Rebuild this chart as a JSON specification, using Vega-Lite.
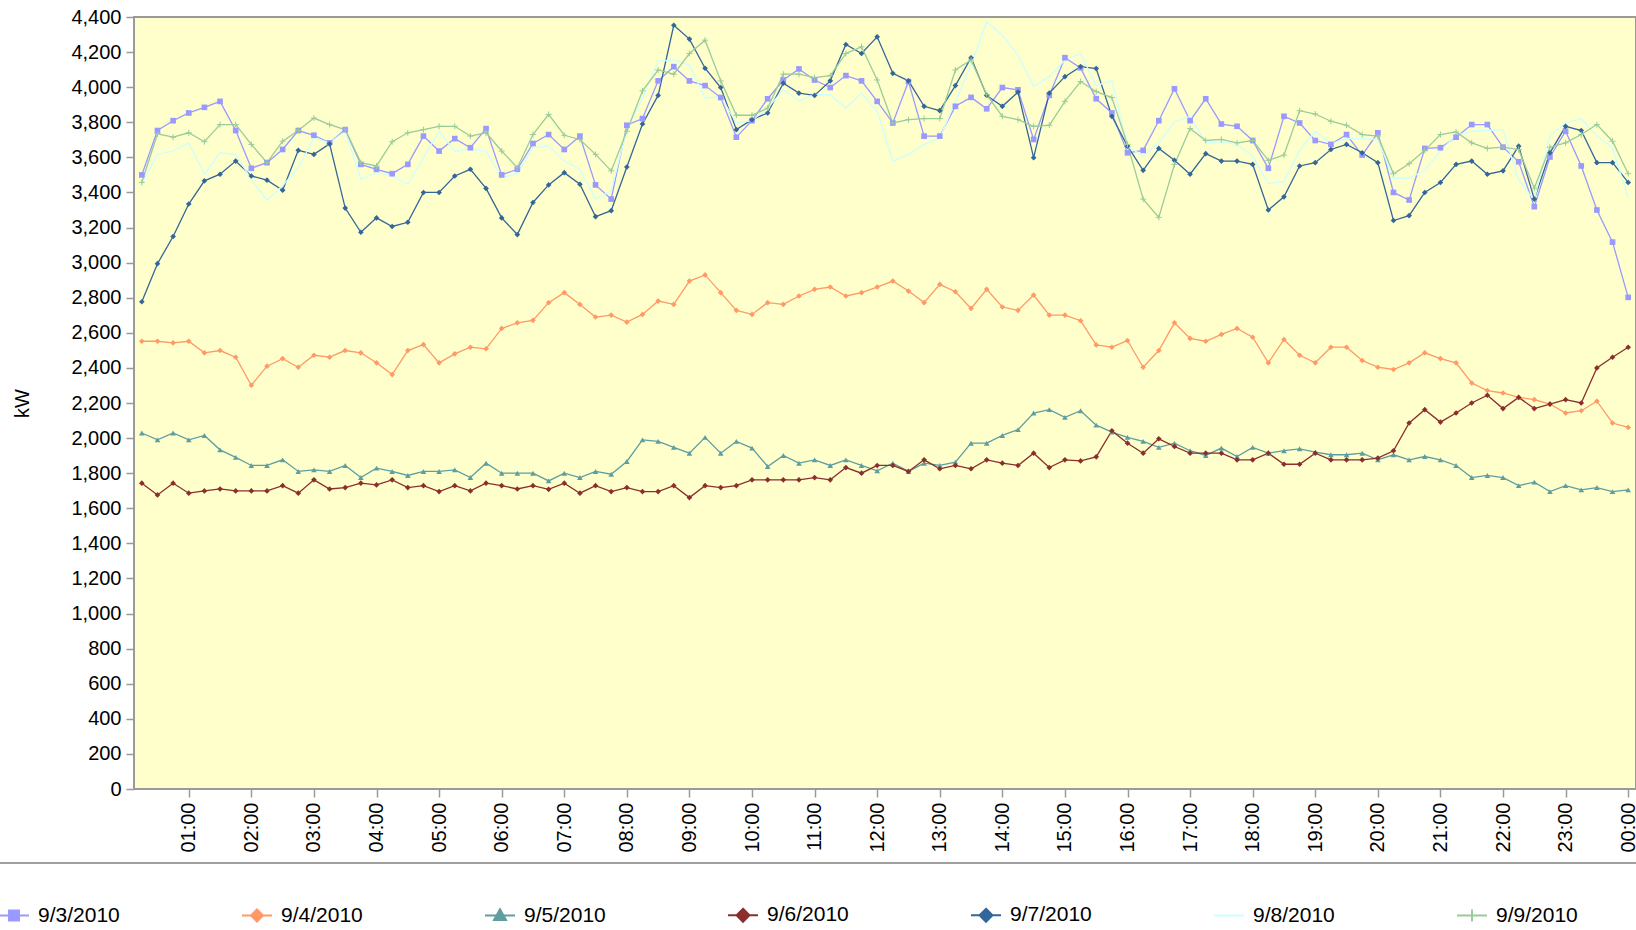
{
"$schema": "https://vega.github.io/schema/vega-lite/v6.json",
"width": 1502,
"height": 772,
"autosize": {"type": "none"},
"padding": {"left": 134, "top": 17, "right": 0, "bottom": 141},
"background": "white",
"data": {"values": [
{"day":"9/3/2010","t":15,"kw":3500},{"day":"9/3/2010","t":30,"kw":3753},{"day":"9/3/2010","t":45,"kw":3809},{"day":"9/3/2010","t":60,"kw":3853},{"day":"9/3/2010","t":75,"kw":3885},{"day":"9/3/2010","t":90,"kw":3919},{"day":"9/3/2010","t":105,"kw":3753},{"day":"9/3/2010","t":120,"kw":3538},{"day":"9/3/2010","t":135,"kw":3570},{"day":"9/3/2010","t":150,"kw":3645},
{"day":"9/3/2010","t":165,"kw":3753},{"day":"9/3/2010","t":180,"kw":3726},{"day":"9/3/2010","t":195,"kw":3683},{"day":"9/3/2010","t":210,"kw":3758},{"day":"9/3/2010","t":225,"kw":3560},{"day":"9/3/2010","t":240,"kw":3532},{"day":"9/3/2010","t":255,"kw":3507},{"day":"9/3/2010","t":270,"kw":3560},{"day":"9/3/2010","t":285,"kw":3721},{"day":"9/3/2010","t":300,"kw":3636},
{"day":"9/3/2010","t":315,"kw":3707},{"day":"9/3/2010","t":330,"kw":3655},{"day":"9/3/2010","t":345,"kw":3764},{"day":"9/3/2010","t":360,"kw":3500},{"day":"9/3/2010","t":375,"kw":3532},{"day":"9/3/2010","t":390,"kw":3679},{"day":"9/3/2010","t":405,"kw":3730},{"day":"9/3/2010","t":420,"kw":3645},{"day":"9/3/2010","t":435,"kw":3721},{"day":"9/3/2010","t":450,"kw":3443},
{"day":"9/3/2010","t":465,"kw":3362},{"day":"9/3/2010","t":480,"kw":3783},{"day":"9/3/2010","t":495,"kw":3821},{"day":"9/3/2010","t":510,"kw":4036},{"day":"9/3/2010","t":525,"kw":4117},{"day":"9/3/2010","t":540,"kw":4036},{"day":"9/3/2010","t":555,"kw":4009},{"day":"9/3/2010","t":570,"kw":3941},{"day":"9/3/2010","t":585,"kw":3715},{"day":"9/3/2010","t":600,"kw":3809},
{"day":"9/3/2010","t":615,"kw":3934},{"day":"9/3/2010","t":630,"kw":4041},{"day":"9/3/2010","t":645,"kw":4104},{"day":"9/3/2010","t":660,"kw":4041},{"day":"9/3/2010","t":675,"kw":3998},{"day":"9/3/2010","t":690,"kw":4066},{"day":"9/3/2010","t":705,"kw":4036},{"day":"9/3/2010","t":720,"kw":3919},{"day":"9/3/2010","t":735,"kw":3796},{"day":"9/3/2010","t":750,"kw":4032},
{"day":"9/3/2010","t":765,"kw":3721},{"day":"9/3/2010","t":780,"kw":3721},{"day":"9/3/2010","t":795,"kw":3891},{"day":"9/3/2010","t":810,"kw":3942},{"day":"9/3/2010","t":825,"kw":3877},{"day":"9/3/2010","t":840,"kw":3998},{"day":"9/3/2010","t":855,"kw":3985},{"day":"9/3/2010","t":870,"kw":3702},{"day":"9/3/2010","t":885,"kw":3953},{"day":"9/3/2010","t":900,"kw":4168},
{"day":"9/3/2010","t":915,"kw":4110},{"day":"9/3/2010","t":930,"kw":3934},{"day":"9/3/2010","t":945,"kw":3853},{"day":"9/3/2010","t":960,"kw":3626},{"day":"9/3/2010","t":975,"kw":3640},{"day":"9/3/2010","t":990,"kw":3809},{"day":"9/3/2010","t":1005,"kw":3991},{"day":"9/3/2010","t":1020,"kw":3809},{"day":"9/3/2010","t":1035,"kw":3934},{"day":"9/3/2010","t":1050,"kw":3790},
{"day":"9/3/2010","t":1065,"kw":3777},{"day":"9/3/2010","t":1080,"kw":3696},{"day":"9/3/2010","t":1095,"kw":3538},{"day":"9/3/2010","t":1110,"kw":3834},{"day":"9/3/2010","t":1125,"kw":3796},{"day":"9/3/2010","t":1140,"kw":3696},{"day":"9/3/2010","t":1155,"kw":3674},{"day":"9/3/2010","t":1170,"kw":3730},{"day":"9/3/2010","t":1185,"kw":3613},{"day":"9/3/2010","t":1200,"kw":3740},
{"day":"9/3/2010","t":1215,"kw":3400},{"day":"9/3/2010","t":1230,"kw":3357},{"day":"9/3/2010","t":1245,"kw":3651},{"day":"9/3/2010","t":1260,"kw":3655},{"day":"9/3/2010","t":1275,"kw":3715},{"day":"9/3/2010","t":1290,"kw":3787},{"day":"9/3/2010","t":1305,"kw":3787},{"day":"9/3/2010","t":1320,"kw":3658},{"day":"9/3/2010","t":1335,"kw":3575},{"day":"9/3/2010","t":1350,"kw":3319},
{"day":"9/3/2010","t":1365,"kw":3602},{"day":"9/3/2010","t":1380,"kw":3749},{"day":"9/3/2010","t":1395,"kw":3551},{"day":"9/3/2010","t":1410,"kw":3300},{"day":"9/3/2010","t":1425,"kw":3117},{"day":"9/3/2010","t":1440,"kw":2802},

{"day":"9/4/2010","t":15,"kw":2552},{"day":"9/4/2010","t":30,"kw":2552},{"day":"9/4/2010","t":45,"kw":2543},{"day":"9/4/2010","t":60,"kw":2552},{"day":"9/4/2010","t":75,"kw":2486},{"day":"9/4/2010","t":90,"kw":2499},{"day":"9/4/2010","t":105,"kw":2461},{"day":"9/4/2010","t":120,"kw":2301},{"day":"9/4/2010","t":135,"kw":2410},{"day":"9/4/2010","t":150,"kw":2453},
{"day":"9/4/2010","t":165,"kw":2404},{"day":"9/4/2010","t":180,"kw":2472},{"day":"9/4/2010","t":195,"kw":2461},{"day":"9/4/2010","t":210,"kw":2499},{"day":"9/4/2010","t":225,"kw":2486},{"day":"9/4/2010","t":240,"kw":2429},{"day":"9/4/2010","t":255,"kw":2362},{"day":"9/4/2010","t":270,"kw":2499},{"day":"9/4/2010","t":285,"kw":2533},{"day":"9/4/2010","t":300,"kw":2429},
{"day":"9/4/2010","t":315,"kw":2480},{"day":"9/4/2010","t":330,"kw":2518},{"day":"9/4/2010","t":345,"kw":2509},{"day":"9/4/2010","t":360,"kw":2625},{"day":"9/4/2010","t":375,"kw":2657},{"day":"9/4/2010","t":390,"kw":2671},{"day":"9/4/2010","t":405,"kw":2772},{"day":"9/4/2010","t":420,"kw":2829},{"day":"9/4/2010","t":435,"kw":2762},{"day":"9/4/2010","t":450,"kw":2690},
{"day":"9/4/2010","t":465,"kw":2701},{"day":"9/4/2010","t":480,"kw":2661},{"day":"9/4/2010","t":495,"kw":2705},{"day":"9/4/2010","t":510,"kw":2781},{"day":"9/4/2010","t":525,"kw":2762},{"day":"9/4/2010","t":540,"kw":2895},{"day":"9/4/2010","t":555,"kw":2930},{"day":"9/4/2010","t":570,"kw":2829},{"day":"9/4/2010","t":585,"kw":2728},{"day":"9/4/2010","t":600,"kw":2705},
{"day":"9/4/2010","t":615,"kw":2772},{"day":"9/4/2010","t":630,"kw":2762},{"day":"9/4/2010","t":645,"kw":2810},{"day":"9/4/2010","t":660,"kw":2848},{"day":"9/4/2010","t":675,"kw":2861},{"day":"9/4/2010","t":690,"kw":2810},{"day":"9/4/2010","t":705,"kw":2829},{"day":"9/4/2010","t":720,"kw":2861},{"day":"9/4/2010","t":735,"kw":2895},{"day":"9/4/2010","t":750,"kw":2838},
{"day":"9/4/2010","t":765,"kw":2772},{"day":"9/4/2010","t":780,"kw":2876},{"day":"9/4/2010","t":795,"kw":2834},{"day":"9/4/2010","t":810,"kw":2739},{"day":"9/4/2010","t":825,"kw":2848},{"day":"9/4/2010","t":840,"kw":2747},{"day":"9/4/2010","t":855,"kw":2728},{"day":"9/4/2010","t":870,"kw":2815},{"day":"9/4/2010","t":885,"kw":2701},{"day":"9/4/2010","t":900,"kw":2701},
{"day":"9/4/2010","t":915,"kw":2669},{"day":"9/4/2010","t":930,"kw":2531},{"day":"9/4/2010","t":945,"kw":2518},{"day":"9/4/2010","t":960,"kw":2556},{"day":"9/4/2010","t":975,"kw":2404},{"day":"9/4/2010","t":990,"kw":2499},{"day":"9/4/2010","t":1005,"kw":2657},{"day":"9/4/2010","t":1020,"kw":2568},{"day":"9/4/2010","t":1035,"kw":2552},{"day":"9/4/2010","t":1050,"kw":2591},
{"day":"9/4/2010","t":1065,"kw":2625},{"day":"9/4/2010","t":1080,"kw":2575},{"day":"9/4/2010","t":1095,"kw":2429},{"day":"9/4/2010","t":1110,"kw":2562},{"day":"9/4/2010","t":1125,"kw":2472},{"day":"9/4/2010","t":1140,"kw":2429},{"day":"9/4/2010","t":1155,"kw":2518},{"day":"9/4/2010","t":1170,"kw":2518},{"day":"9/4/2010","t":1185,"kw":2442},{"day":"9/4/2010","t":1200,"kw":2404},
{"day":"9/4/2010","t":1215,"kw":2391},{"day":"9/4/2010","t":1230,"kw":2429},{"day":"9/4/2010","t":1245,"kw":2486},{"day":"9/4/2010","t":1260,"kw":2453},{"day":"9/4/2010","t":1275,"kw":2429},{"day":"9/4/2010","t":1290,"kw":2314},{"day":"9/4/2010","t":1305,"kw":2271},{"day":"9/4/2010","t":1320,"kw":2257},{"day":"9/4/2010","t":1335,"kw":2232},{"day":"9/4/2010","t":1350,"kw":2219},
{"day":"9/4/2010","t":1365,"kw":2194},{"day":"9/4/2010","t":1380,"kw":2143},{"day":"9/4/2010","t":1395,"kw":2156},{"day":"9/4/2010","t":1410,"kw":2210},{"day":"9/4/2010","t":1425,"kw":2086},{"day":"9/4/2010","t":1440,"kw":2061},

{"day":"9/5/2010","t":15,"kw":2029},{"day":"9/5/2010","t":30,"kw":1990},{"day":"9/5/2010","t":45,"kw":2029},{"day":"9/5/2010","t":60,"kw":1990},{"day":"9/5/2010","t":75,"kw":2015},{"day":"9/5/2010","t":90,"kw":1933},{"day":"9/5/2010","t":105,"kw":1890},{"day":"9/5/2010","t":120,"kw":1844},{"day":"9/5/2010","t":135,"kw":1844},{"day":"9/5/2010","t":150,"kw":1876},
{"day":"9/5/2010","t":165,"kw":1810},{"day":"9/5/2010","t":180,"kw":1819},{"day":"9/5/2010","t":195,"kw":1810},{"day":"9/5/2010","t":210,"kw":1844},{"day":"9/5/2010","t":225,"kw":1775},{"day":"9/5/2010","t":240,"kw":1829},{"day":"9/5/2010","t":255,"kw":1810},{"day":"9/5/2010","t":270,"kw":1787},{"day":"9/5/2010","t":285,"kw":1810},{"day":"9/5/2010","t":300,"kw":1810},
{"day":"9/5/2010","t":315,"kw":1819},{"day":"9/5/2010","t":330,"kw":1775},{"day":"9/5/2010","t":345,"kw":1857},{"day":"9/5/2010","t":360,"kw":1800},{"day":"9/5/2010","t":375,"kw":1800},{"day":"9/5/2010","t":390,"kw":1800},{"day":"9/5/2010","t":405,"kw":1756},{"day":"9/5/2010","t":420,"kw":1800},{"day":"9/5/2010","t":435,"kw":1775},{"day":"9/5/2010","t":450,"kw":1810},
{"day":"9/5/2010","t":465,"kw":1794},{"day":"9/5/2010","t":480,"kw":1867},{"day":"9/5/2010","t":495,"kw":1990},{"day":"9/5/2010","t":510,"kw":1981},{"day":"9/5/2010","t":525,"kw":1947},{"day":"9/5/2010","t":540,"kw":1914},{"day":"9/5/2010","t":555,"kw":2004},{"day":"9/5/2010","t":570,"kw":1914},{"day":"9/5/2010","t":585,"kw":1981},{"day":"9/5/2010","t":600,"kw":1943},
{"day":"9/5/2010","t":615,"kw":1838},{"day":"9/5/2010","t":630,"kw":1901},{"day":"9/5/2010","t":645,"kw":1857},{"day":"9/5/2010","t":660,"kw":1876},{"day":"9/5/2010","t":675,"kw":1844},{"day":"9/5/2010","t":690,"kw":1876},{"day":"9/5/2010","t":705,"kw":1844},{"day":"9/5/2010","t":720,"kw":1813},{"day":"9/5/2010","t":735,"kw":1857},{"day":"9/5/2010","t":750,"kw":1810},
{"day":"9/5/2010","t":765,"kw":1857},{"day":"9/5/2010","t":780,"kw":1844},{"day":"9/5/2010","t":795,"kw":1863},{"day":"9/5/2010","t":810,"kw":1971},{"day":"9/5/2010","t":825,"kw":1971},{"day":"9/5/2010","t":840,"kw":2015},{"day":"9/5/2010","t":855,"kw":2048},{"day":"9/5/2010","t":870,"kw":2143},{"day":"9/5/2010","t":885,"kw":2162},{"day":"9/5/2010","t":900,"kw":2118},
{"day":"9/5/2010","t":915,"kw":2156},{"day":"9/5/2010","t":930,"kw":2074},{"day":"9/5/2010","t":945,"kw":2034},{"day":"9/5/2010","t":960,"kw":2004},{"day":"9/5/2010","t":975,"kw":1981},{"day":"9/5/2010","t":990,"kw":1947},{"day":"9/5/2010","t":1005,"kw":1971},{"day":"9/5/2010","t":1020,"kw":1928},{"day":"9/5/2010","t":1035,"kw":1901},{"day":"9/5/2010","t":1050,"kw":1943},
{"day":"9/5/2010","t":1065,"kw":1895},{"day":"9/5/2010","t":1080,"kw":1947},{"day":"9/5/2010","t":1095,"kw":1914},{"day":"9/5/2010","t":1110,"kw":1928},{"day":"9/5/2010","t":1125,"kw":1939},{"day":"9/5/2010","t":1140,"kw":1920},{"day":"9/5/2010","t":1155,"kw":1905},{"day":"9/5/2010","t":1170,"kw":1905},{"day":"9/5/2010","t":1185,"kw":1914},{"day":"9/5/2010","t":1200,"kw":1876},
{"day":"9/5/2010","t":1215,"kw":1905},{"day":"9/5/2010","t":1230,"kw":1876},{"day":"9/5/2010","t":1245,"kw":1895},{"day":"9/5/2010","t":1260,"kw":1876},{"day":"9/5/2010","t":1275,"kw":1844},{"day":"9/5/2010","t":1290,"kw":1775},{"day":"9/5/2010","t":1305,"kw":1787},{"day":"9/5/2010","t":1320,"kw":1775},{"day":"9/5/2010","t":1335,"kw":1729},{"day":"9/5/2010","t":1350,"kw":1749},
{"day":"9/5/2010","t":1365,"kw":1695},{"day":"9/5/2010","t":1380,"kw":1729},{"day":"9/5/2010","t":1395,"kw":1705},{"day":"9/5/2010","t":1410,"kw":1718},{"day":"9/5/2010","t":1425,"kw":1695},{"day":"9/5/2010","t":1440,"kw":1705},

{"day":"9/6/2010","t":15,"kw":1743},{"day":"9/6/2010","t":30,"kw":1676},{"day":"9/6/2010","t":45,"kw":1743},{"day":"9/6/2010","t":60,"kw":1686},{"day":"9/6/2010","t":75,"kw":1699},{"day":"9/6/2010","t":90,"kw":1710},{"day":"9/6/2010","t":105,"kw":1699},{"day":"9/6/2010","t":120,"kw":1699},{"day":"9/6/2010","t":135,"kw":1699},{"day":"9/6/2010","t":150,"kw":1729},
{"day":"9/6/2010","t":165,"kw":1686},{"day":"9/6/2010","t":180,"kw":1762},{"day":"9/6/2010","t":195,"kw":1710},{"day":"9/6/2010","t":210,"kw":1718},{"day":"9/6/2010","t":225,"kw":1743},{"day":"9/6/2010","t":240,"kw":1733},{"day":"9/6/2010","t":255,"kw":1762},{"day":"9/6/2010","t":270,"kw":1718},{"day":"9/6/2010","t":285,"kw":1729},{"day":"9/6/2010","t":300,"kw":1695},
{"day":"9/6/2010","t":315,"kw":1729},{"day":"9/6/2010","t":330,"kw":1699},{"day":"9/6/2010","t":345,"kw":1743},{"day":"9/6/2010","t":360,"kw":1729},{"day":"9/6/2010","t":375,"kw":1710},{"day":"9/6/2010","t":390,"kw":1729},{"day":"9/6/2010","t":405,"kw":1708},{"day":"9/6/2010","t":420,"kw":1743},{"day":"9/6/2010","t":435,"kw":1686},{"day":"9/6/2010","t":450,"kw":1729},
{"day":"9/6/2010","t":465,"kw":1695},{"day":"9/6/2010","t":480,"kw":1718},{"day":"9/6/2010","t":495,"kw":1695},{"day":"9/6/2010","t":510,"kw":1695},{"day":"9/6/2010","t":525,"kw":1729},{"day":"9/6/2010","t":540,"kw":1661},{"day":"9/6/2010","t":555,"kw":1729},{"day":"9/6/2010","t":570,"kw":1718},{"day":"9/6/2010","t":585,"kw":1729},{"day":"9/6/2010","t":600,"kw":1762},
{"day":"9/6/2010","t":615,"kw":1762},{"day":"9/6/2010","t":630,"kw":1762},{"day":"9/6/2010","t":645,"kw":1762},{"day":"9/6/2010","t":660,"kw":1775},{"day":"9/6/2010","t":675,"kw":1762},{"day":"9/6/2010","t":690,"kw":1832},{"day":"9/6/2010","t":705,"kw":1800},{"day":"9/6/2010","t":720,"kw":1844},{"day":"9/6/2010","t":735,"kw":1844},{"day":"9/6/2010","t":750,"kw":1810},
{"day":"9/6/2010","t":765,"kw":1876},{"day":"9/6/2010","t":780,"kw":1825},{"day":"9/6/2010","t":795,"kw":1844},{"day":"9/6/2010","t":810,"kw":1825},{"day":"9/6/2010","t":825,"kw":1876},{"day":"9/6/2010","t":840,"kw":1857},{"day":"9/6/2010","t":855,"kw":1844},{"day":"9/6/2010","t":870,"kw":1914},{"day":"9/6/2010","t":885,"kw":1832},{"day":"9/6/2010","t":900,"kw":1876},
{"day":"9/6/2010","t":915,"kw":1870},{"day":"9/6/2010","t":930,"kw":1893},{"day":"9/6/2010","t":945,"kw":2042},{"day":"9/6/2010","t":960,"kw":1971},{"day":"9/6/2010","t":975,"kw":1914},{"day":"9/6/2010","t":990,"kw":1996},{"day":"9/6/2010","t":1005,"kw":1952},{"day":"9/6/2010","t":1020,"kw":1914},{"day":"9/6/2010","t":1035,"kw":1914},{"day":"9/6/2010","t":1050,"kw":1914},
{"day":"9/6/2010","t":1065,"kw":1876},{"day":"9/6/2010","t":1080,"kw":1876},{"day":"9/6/2010","t":1095,"kw":1914},{"day":"9/6/2010","t":1110,"kw":1851},{"day":"9/6/2010","t":1125,"kw":1851},{"day":"9/6/2010","t":1140,"kw":1914},{"day":"9/6/2010","t":1155,"kw":1876},{"day":"9/6/2010","t":1170,"kw":1876},{"day":"9/6/2010","t":1185,"kw":1876},{"day":"9/6/2010","t":1200,"kw":1886},
{"day":"9/6/2010","t":1215,"kw":1928},{"day":"9/6/2010","t":1230,"kw":2086},{"day":"9/6/2010","t":1245,"kw":2162},{"day":"9/6/2010","t":1260,"kw":2091},{"day":"9/6/2010","t":1275,"kw":2143},{"day":"9/6/2010","t":1290,"kw":2200},{"day":"9/6/2010","t":1305,"kw":2244},{"day":"9/6/2010","t":1320,"kw":2168},{"day":"9/6/2010","t":1335,"kw":2232},{"day":"9/6/2010","t":1350,"kw":2168},
{"day":"9/6/2010","t":1365,"kw":2194},{"day":"9/6/2010","t":1380,"kw":2219},{"day":"9/6/2010","t":1395,"kw":2200},{"day":"9/6/2010","t":1410,"kw":2400},{"day":"9/6/2010","t":1425,"kw":2461},{"day":"9/6/2010","t":1440,"kw":2518},

{"day":"9/7/2010","t":15,"kw":2777},{"day":"9/7/2010","t":30,"kw":2994},{"day":"9/7/2010","t":45,"kw":3149},{"day":"9/7/2010","t":60,"kw":3334},{"day":"9/7/2010","t":75,"kw":3466},{"day":"9/7/2010","t":90,"kw":3504},{"day":"9/7/2010","t":105,"kw":3579},{"day":"9/7/2010","t":120,"kw":3494},{"day":"9/7/2010","t":135,"kw":3470},{"day":"9/7/2010","t":150,"kw":3413},
{"day":"9/7/2010","t":165,"kw":3640},{"day":"9/7/2010","t":180,"kw":3617},{"day":"9/7/2010","t":195,"kw":3677},{"day":"9/7/2010","t":210,"kw":3311},{"day":"9/7/2010","t":225,"kw":3173},{"day":"9/7/2010","t":240,"kw":3255},{"day":"9/7/2010","t":255,"kw":3206},{"day":"9/7/2010","t":270,"kw":3230},{"day":"9/7/2010","t":285,"kw":3400},{"day":"9/7/2010","t":300,"kw":3400},
{"day":"9/7/2010","t":315,"kw":3494},{"day":"9/7/2010","t":330,"kw":3532},{"day":"9/7/2010","t":345,"kw":3423},{"day":"9/7/2010","t":360,"kw":3255},{"day":"9/7/2010","t":375,"kw":3160},{"day":"9/7/2010","t":390,"kw":3343},{"day":"9/7/2010","t":405,"kw":3443},{"day":"9/7/2010","t":420,"kw":3513},{"day":"9/7/2010","t":435,"kw":3447},{"day":"9/7/2010","t":450,"kw":3262},
{"day":"9/7/2010","t":465,"kw":3296},{"day":"9/7/2010","t":480,"kw":3545},{"day":"9/7/2010","t":495,"kw":3790},{"day":"9/7/2010","t":510,"kw":3953},{"day":"9/7/2010","t":525,"kw":4353},{"day":"9/7/2010","t":540,"kw":4274},{"day":"9/7/2010","t":555,"kw":4108},{"day":"9/7/2010","t":570,"kw":3998},{"day":"9/7/2010","t":585,"kw":3758},{"day":"9/7/2010","t":600,"kw":3815},
{"day":"9/7/2010","t":615,"kw":3853},{"day":"9/7/2010","t":630,"kw":4023},{"day":"9/7/2010","t":645,"kw":3966},{"day":"9/7/2010","t":660,"kw":3953},{"day":"9/7/2010","t":675,"kw":4036},{"day":"9/7/2010","t":690,"kw":4243},{"day":"9/7/2010","t":705,"kw":4192},{"day":"9/7/2010","t":720,"kw":4287},{"day":"9/7/2010","t":735,"kw":4079},{"day":"9/7/2010","t":750,"kw":4036},
{"day":"9/7/2010","t":765,"kw":3891},{"day":"9/7/2010","t":780,"kw":3866},{"day":"9/7/2010","t":795,"kw":4009},{"day":"9/7/2010","t":810,"kw":4168},{"day":"9/7/2010","t":825,"kw":3953},{"day":"9/7/2010","t":840,"kw":3891},{"day":"9/7/2010","t":855,"kw":3972},{"day":"9/7/2010","t":870,"kw":3598},{"day":"9/7/2010","t":885,"kw":3966},{"day":"9/7/2010","t":900,"kw":4060},
{"day":"9/7/2010","t":915,"kw":4117},{"day":"9/7/2010","t":930,"kw":4106},{"day":"9/7/2010","t":945,"kw":3834},{"day":"9/7/2010","t":960,"kw":3664},{"day":"9/7/2010","t":975,"kw":3526},{"day":"9/7/2010","t":990,"kw":3651},{"day":"9/7/2010","t":1005,"kw":3583},{"day":"9/7/2010","t":1020,"kw":3504},{"day":"9/7/2010","t":1035,"kw":3621},{"day":"9/7/2010","t":1050,"kw":3579},
{"day":"9/7/2010","t":1065,"kw":3579},{"day":"9/7/2010","t":1080,"kw":3560},{"day":"9/7/2010","t":1095,"kw":3300},{"day":"9/7/2010","t":1110,"kw":3375},{"day":"9/7/2010","t":1125,"kw":3551},{"day":"9/7/2010","t":1140,"kw":3570},{"day":"9/7/2010","t":1155,"kw":3645},{"day":"9/7/2010","t":1170,"kw":3674},{"day":"9/7/2010","t":1185,"kw":3626},{"day":"9/7/2010","t":1200,"kw":3570},
{"day":"9/7/2010","t":1215,"kw":3240},{"day":"9/7/2010","t":1230,"kw":3268},{"day":"9/7/2010","t":1245,"kw":3400},{"day":"9/7/2010","t":1260,"kw":3457},{"day":"9/7/2010","t":1275,"kw":3560},{"day":"9/7/2010","t":1290,"kw":3579},{"day":"9/7/2010","t":1305,"kw":3504},{"day":"9/7/2010","t":1320,"kw":3523},{"day":"9/7/2010","t":1335,"kw":3664},{"day":"9/7/2010","t":1350,"kw":3362},
{"day":"9/7/2010","t":1365,"kw":3626},{"day":"9/7/2010","t":1380,"kw":3777},{"day":"9/7/2010","t":1395,"kw":3753},{"day":"9/7/2010","t":1410,"kw":3570},{"day":"9/7/2010","t":1425,"kw":3570},{"day":"9/7/2010","t":1440,"kw":3457},

{"day":"9/8/2010","t":15,"kw":3447},{"day":"9/8/2010","t":30,"kw":3617},{"day":"9/8/2010","t":45,"kw":3636},{"day":"9/8/2010","t":60,"kw":3683},{"day":"9/8/2010","t":75,"kw":3504},{"day":"9/8/2010","t":90,"kw":3626},{"day":"9/8/2010","t":105,"kw":3617},{"day":"9/8/2010","t":120,"kw":3475},{"day":"9/8/2010","t":135,"kw":3356},{"day":"9/8/2010","t":150,"kw":3438},
{"day":"9/8/2010","t":165,"kw":3541},{"day":"9/8/2010","t":180,"kw":3711},{"day":"9/8/2010","t":195,"kw":3683},{"day":"9/8/2010","t":210,"kw":3749},{"day":"9/8/2010","t":225,"kw":3475},{"day":"9/8/2010","t":240,"kw":3513},{"day":"9/8/2010","t":255,"kw":3494},{"day":"9/8/2010","t":270,"kw":3447},{"day":"9/8/2010","t":285,"kw":3598},{"day":"9/8/2010","t":300,"kw":3749},
{"day":"9/8/2010","t":315,"kw":3636},{"day":"9/8/2010","t":330,"kw":3645},{"day":"9/8/2010","t":345,"kw":3636},{"day":"9/8/2010","t":360,"kw":3485},{"day":"9/8/2010","t":375,"kw":3507},{"day":"9/8/2010","t":390,"kw":3655},{"day":"9/8/2010","t":405,"kw":3664},{"day":"9/8/2010","t":420,"kw":3579},{"day":"9/8/2010","t":435,"kw":3532},{"day":"9/8/2010","t":450,"kw":3362},
{"day":"9/8/2010","t":465,"kw":3409},{"day":"9/8/2010","t":480,"kw":3758},{"day":"9/8/2010","t":495,"kw":3938},{"day":"9/8/2010","t":510,"kw":4149},{"day":"9/8/2010","t":525,"kw":4155},{"day":"9/8/2010","t":540,"kw":4126},{"day":"9/8/2010","t":555,"kw":3938},{"day":"9/8/2010","t":570,"kw":3947},{"day":"9/8/2010","t":585,"kw":3796},{"day":"9/8/2010","t":600,"kw":3809},
{"day":"9/8/2010","t":615,"kw":3881},{"day":"9/8/2010","t":630,"kw":3985},{"day":"9/8/2010","t":645,"kw":3923},{"day":"9/8/2010","t":660,"kw":3957},{"day":"9/8/2010","t":675,"kw":3957},{"day":"9/8/2010","t":690,"kw":3881},{"day":"9/8/2010","t":705,"kw":3966},{"day":"9/8/2010","t":720,"kw":3862},{"day":"9/8/2010","t":735,"kw":3579},{"day":"9/8/2010","t":750,"kw":3617},
{"day":"9/8/2010","t":765,"kw":3674},{"day":"9/8/2010","t":780,"kw":3711},{"day":"9/8/2010","t":795,"kw":3919},{"day":"9/8/2010","t":810,"kw":4126},{"day":"9/8/2010","t":825,"kw":4372},{"day":"9/8/2010","t":840,"kw":4296},{"day":"9/8/2010","t":855,"kw":4183},{"day":"9/8/2010","t":870,"kw":4004},{"day":"9/8/2010","t":885,"kw":4060},{"day":"9/8/2010","t":900,"kw":4155},
{"day":"9/8/2010","t":915,"kw":4192},{"day":"9/8/2010","t":930,"kw":4010},{"day":"9/8/2010","t":945,"kw":4036},{"day":"9/8/2010","t":960,"kw":3664},{"day":"9/8/2010","t":975,"kw":3607},{"day":"9/8/2010","t":990,"kw":3683},{"day":"9/8/2010","t":1005,"kw":3802},{"day":"9/8/2010","t":1020,"kw":3834},{"day":"9/8/2010","t":1035,"kw":3683},{"day":"9/8/2010","t":1050,"kw":3689},
{"day":"9/8/2010","t":1065,"kw":3674},{"day":"9/8/2010","t":1080,"kw":3607},{"day":"9/8/2010","t":1095,"kw":3451},{"day":"9/8/2010","t":1110,"kw":3462},{"day":"9/8/2010","t":1125,"kw":3640},{"day":"9/8/2010","t":1140,"kw":3749},{"day":"9/8/2010","t":1155,"kw":3677},{"day":"9/8/2010","t":1170,"kw":3707},{"day":"9/8/2010","t":1185,"kw":3707},{"day":"9/8/2010","t":1200,"kw":3702},
{"day":"9/8/2010","t":1215,"kw":3481},{"day":"9/8/2010","t":1230,"kw":3481},{"day":"9/8/2010","t":1245,"kw":3526},{"day":"9/8/2010","t":1260,"kw":3636},{"day":"9/8/2010","t":1275,"kw":3726},{"day":"9/8/2010","t":1290,"kw":3749},{"day":"9/8/2010","t":1305,"kw":3753},{"day":"9/8/2010","t":1320,"kw":3758},{"day":"9/8/2010","t":1335,"kw":3470},{"day":"9/8/2010","t":1350,"kw":3357},
{"day":"9/8/2010","t":1365,"kw":3726},{"day":"9/8/2010","t":1380,"kw":3796},{"day":"9/8/2010","t":1395,"kw":3821},{"day":"9/8/2010","t":1410,"kw":3721},{"day":"9/8/2010","t":1425,"kw":3655},{"day":"9/8/2010","t":1440,"kw":3368},

{"day":"9/9/2010","t":15,"kw":3457},{"day":"9/9/2010","t":30,"kw":3734},{"day":"9/9/2010","t":45,"kw":3715},{"day":"9/9/2010","t":60,"kw":3740},{"day":"9/9/2010","t":75,"kw":3689},{"day":"9/9/2010","t":90,"kw":3787},{"day":"9/9/2010","t":105,"kw":3787},{"day":"9/9/2010","t":120,"kw":3674},{"day":"9/9/2010","t":135,"kw":3570},{"day":"9/9/2010","t":150,"kw":3692},
{"day":"9/9/2010","t":165,"kw":3753},{"day":"9/9/2010","t":180,"kw":3824},{"day":"9/9/2010","t":195,"kw":3787},{"day":"9/9/2010","t":210,"kw":3758},{"day":"9/9/2010","t":225,"kw":3570},{"day":"9/9/2010","t":240,"kw":3551},{"day":"9/9/2010","t":255,"kw":3689},{"day":"9/9/2010","t":270,"kw":3740},{"day":"9/9/2010","t":285,"kw":3758},{"day":"9/9/2010","t":300,"kw":3777},
{"day":"9/9/2010","t":315,"kw":3777},{"day":"9/9/2010","t":330,"kw":3721},{"day":"9/9/2010","t":345,"kw":3740},{"day":"9/9/2010","t":360,"kw":3636},{"day":"9/9/2010","t":375,"kw":3541},{"day":"9/9/2010","t":390,"kw":3730},{"day":"9/9/2010","t":405,"kw":3845},{"day":"9/9/2010","t":420,"kw":3726},{"day":"9/9/2010","t":435,"kw":3702},{"day":"9/9/2010","t":450,"kw":3617},
{"day":"9/9/2010","t":465,"kw":3523},{"day":"9/9/2010","t":480,"kw":3749},{"day":"9/9/2010","t":495,"kw":3979},{"day":"9/9/2010","t":510,"kw":4098},{"day":"9/9/2010","t":525,"kw":4074},{"day":"9/9/2010","t":540,"kw":4192},{"day":"9/9/2010","t":555,"kw":4268},{"day":"9/9/2010","t":570,"kw":4036},{"day":"9/9/2010","t":585,"kw":3840},{"day":"9/9/2010","t":600,"kw":3840},
{"day":"9/9/2010","t":615,"kw":3881},{"day":"9/9/2010","t":630,"kw":4074},{"day":"9/9/2010","t":645,"kw":4074},{"day":"9/9/2010","t":660,"kw":4055},{"day":"9/9/2010","t":675,"kw":4066},{"day":"9/9/2010","t":690,"kw":4192},{"day":"9/9/2010","t":705,"kw":4230},{"day":"9/9/2010","t":720,"kw":4041},{"day":"9/9/2010","t":735,"kw":3796},{"day":"9/9/2010","t":750,"kw":3815},
{"day":"9/9/2010","t":765,"kw":3821},{"day":"9/9/2010","t":780,"kw":3821},{"day":"9/9/2010","t":795,"kw":4098},{"day":"9/9/2010","t":810,"kw":4155},{"day":"9/9/2010","t":825,"kw":3957},{"day":"9/9/2010","t":840,"kw":3834},{"day":"9/9/2010","t":855,"kw":3815},{"day":"9/9/2010","t":870,"kw":3777},{"day":"9/9/2010","t":885,"kw":3783},{"day":"9/9/2010","t":900,"kw":3919},
{"day":"9/9/2010","t":915,"kw":4032},{"day":"9/9/2010","t":930,"kw":3975},{"day":"9/9/2010","t":945,"kw":3941},{"day":"9/9/2010","t":960,"kw":3674},{"day":"9/9/2010","t":975,"kw":3362},{"day":"9/9/2010","t":990,"kw":3258},{"day":"9/9/2010","t":1005,"kw":3560},{"day":"9/9/2010","t":1020,"kw":3764},{"day":"9/9/2010","t":1035,"kw":3696},{"day":"9/9/2010","t":1050,"kw":3702},
{"day":"9/9/2010","t":1065,"kw":3683},{"day":"9/9/2010","t":1080,"kw":3696},{"day":"9/9/2010","t":1095,"kw":3583},{"day":"9/9/2010","t":1110,"kw":3613},{"day":"9/9/2010","t":1125,"kw":3866},{"day":"9/9/2010","t":1140,"kw":3847},{"day":"9/9/2010","t":1155,"kw":3806},{"day":"9/9/2010","t":1170,"kw":3783},{"day":"9/9/2010","t":1185,"kw":3730},{"day":"9/9/2010","t":1200,"kw":3721},
{"day":"9/9/2010","t":1215,"kw":3507},{"day":"9/9/2010","t":1230,"kw":3564},{"day":"9/9/2010","t":1245,"kw":3640},{"day":"9/9/2010","t":1260,"kw":3730},{"day":"9/9/2010","t":1275,"kw":3745},{"day":"9/9/2010","t":1290,"kw":3683},{"day":"9/9/2010","t":1305,"kw":3651},{"day":"9/9/2010","t":1320,"kw":3658},{"day":"9/9/2010","t":1335,"kw":3645},{"day":"9/9/2010","t":1350,"kw":3424},
{"day":"9/9/2010","t":1365,"kw":3658},{"day":"9/9/2010","t":1380,"kw":3683},{"day":"9/9/2010","t":1395,"kw":3730},{"day":"9/9/2010","t":1410,"kw":3787},{"day":"9/9/2010","t":1425,"kw":3692},{"day":"9/9/2010","t":1440,"kw":3507}
]},
"encoding": {
  "x": {"field": "t", "type": "quantitative",
        "scale": {"domain": [7.5, 1447.5], "nice": false, "zero": false},
        "axis": {"values": [60,120,180,240,300,360,420,480,540,600,660,720,780,840,900,960,1020,1080,1140,1200,1260,1320,1380,1440],
                 "labelExpr": "(floor(datum.value/60)%24 < 10 ? '0' : '') + (floor(datum.value/60)%24) + ':00'",
                 "labelAngle": 270, "labelAlign": "right", "labelBaseline": "middle",
                 "labelPadding": 5, "labelOverlap": false, "labelFlush": false, "title": null}},
  "y": {"field": "kw", "type": "quantitative",
        "scale": {"domain": [0, 4400], "nice": false},
        "axis": {"values": [0,200,400,600,800,1000,1200,1400,1600,1800,2000,2200,2400,2600,2800,3000,3200,3400,3600,3800,4000,4200,4400],
                 "format": ",d", "title": "kW", "titleFontSize": 20, "titleFontWeight": "normal", "titleColor": "#000000",
                 "titlePadding": 38, "labelPadding": 5}},
  "color": {"field": "day", "type": "nominal",
            "scale": {"domain": ["9/3/2010","9/4/2010","9/5/2010","9/6/2010","9/7/2010","9/8/2010","9/9/2010"],
                      "range": ["#9999ff","#ff9966","#5f9ea0","#8b2e2e","#336699","#ccffff","#99cc99"]},
            "legend": {
              "orient": "none", "legendX": -172, "legendY": 846, "direction": "horizontal", "columns": 7,
              "title": " ", "titleOrient": "right", "titlePadding": 160,
              "padding": 36, "strokeColor": "#a0a0a0",
              "symbolSize": 900, "labelFontSize": 21, "labelOffset": 8, "columnPadding": 118, "gridAlign": "all",
              "labelColor": "#000000", "labelFont": "Liberation Sans",
              "encode": {"symbols": {"update": {
                "shape": {"signal": "datum.value == '9/3/2010' ? 'M-1,0H1M-0.33,-0.33H0.33V0.33H-0.33Z' : (datum.value == '9/4/2010' ? 'M-1,0H1M0,-0.4L0.4,0L0,0.4L-0.4,0Z' : (datum.value == '9/5/2010' ? 'M-1,0H1M0,-0.42L0.4,0.3H-0.4Z' : (datum.value == '9/9/2010' ? 'M-1,0H1M0,-0.4V0.4' : (datum.value == '9/8/2010' ? 'M-1,0H1' : 'M-1,0H1M0,-0.43L0.43,0L0,0.43L-0.43,0Z'))))"},
                "fill": {"signal": "scale('color', datum.value)"},
                "stroke": {"signal": "scale('color', datum.value)"},
                "strokeWidth": {"value": 2},
                "opacity": {"value": 1},
                "fillOpacity": {"value": 1}
              }}}
            }}
},
"layer": [
  {"mark": {"type": "line", "strokeWidth": 1.3}},
  {"transform": [{"filter": "datum.day != '9/8/2010' && datum.day != '9/9/2010'"}],
   "mark": {"type": "point", "filled": true, "size": 32, "opacity": 1},
   "encoding": {"shape": {"field": "day", "type": "nominal",
       "scale": {"domain": ["9/3/2010","9/4/2010","9/5/2010","9/6/2010","9/7/2010"],
                 "range": ["square","diamond","triangle-up","diamond","diamond"]},
       "legend": null}}},
  {"transform": [{"filter": "datum.day == '9/9/2010'"}],
   "mark": {"type": "point", "filled": false, "shape": "M-1,0H1M0,-1V1", "size": 36, "strokeWidth": 1, "opacity": 1}}
],
"config": {
  "font": "Liberation Sans",
  "view": {"fill": "#ffffcc", "stroke": "#9a9a9a", "strokeWidth": 2},
  "axis": {"labelFontSize": 20, "labelColor": "#000000", "labelFont": "Liberation Sans", "domain": false,
           "tickColor": "#9a9a9a", "tickSize": 8, "tickWidth": 1.5, "grid": false, "titleFont": "Liberation Sans"},
  "legend": {"strokeWidth": 2}
}
}
